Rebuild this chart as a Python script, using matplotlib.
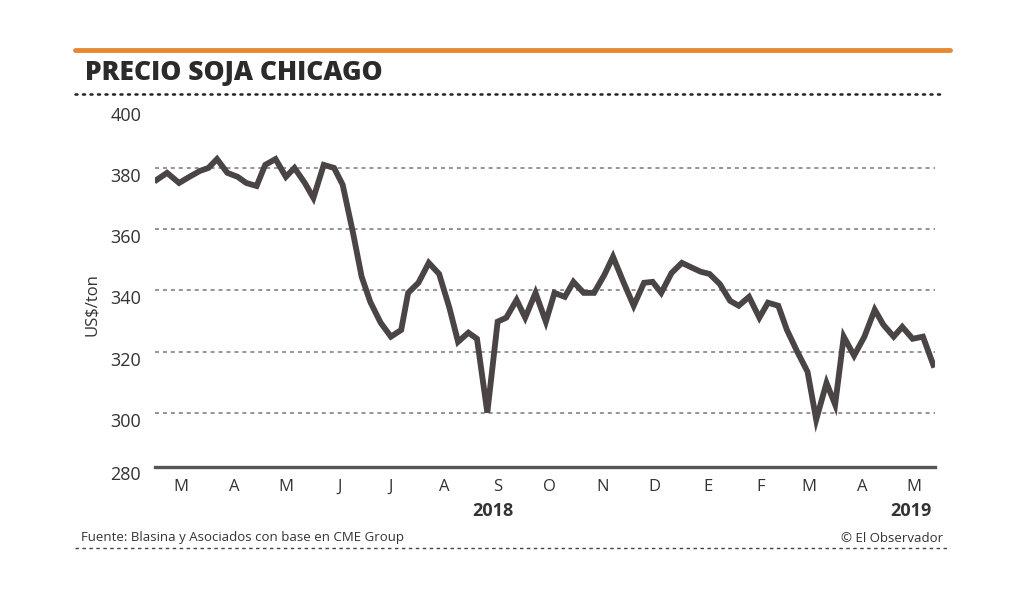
import matplotlib
matplotlib.use("Agg")
import matplotlib.pyplot as plt
import matplotlib.transforms as mtransforms
from matplotlib.lines import Line2D
import pandas as pd

plt.rcParams['font.family'] = ['Open Sans', 'DejaVu Sans']

# precio soja Chicago, US$/ton
fechas = [
    "2018-03-01", "2018-03-07", "2018-03-14", "2018-03-20", "2018-03-26", "2018-03-31",
    "2018-04-05", "2018-04-11", "2018-04-17", "2018-04-22", "2018-04-28",
    "2018-05-03", "2018-05-09", "2018-05-15", "2018-05-20", "2018-05-26", "2018-05-31",
    "2018-06-06", "2018-06-12", "2018-06-17", "2018-06-23", "2018-06-28",
    "2018-07-03", "2018-07-09", "2018-07-15", "2018-07-21", "2018-07-25", "2018-07-31",
    "2018-08-06", "2018-08-12", "2018-08-18", "2018-08-23", "2018-08-29",
    "2018-09-03", "2018-09-09", "2018-09-15", "2018-09-20", "2018-09-26",
    "2018-10-01", "2018-10-07", "2018-10-13", "2018-10-18", "2018-10-24", "2018-10-29",
    "2018-11-04", "2018-11-10", "2018-11-16", "2018-11-21", "2018-11-27",
    "2018-12-03", "2018-12-09", "2018-12-14", "2018-12-19", "2018-12-25", "2018-12-31",
    "2019-01-06", "2019-01-11", "2019-01-16", "2019-01-22", "2019-01-28",
    "2019-02-02", "2019-02-08", "2019-02-14", "2019-02-19", "2019-02-25",
    "2019-03-02", "2019-03-08", "2019-03-14", "2019-03-19", "2019-03-25", "2019-03-30",
    "2019-04-04", "2019-04-10", "2019-04-16", "2019-04-22", "2019-04-27",
    "2019-05-03", "2019-05-08", "2019-05-14", "2019-05-20", "2019-05-26",
]
precios = [
    376.1, 378.4, 375.1, 377.1, 379.0, 380.0,
    382.9, 378.4, 377.1, 375.1, 374.1,
    381.0, 382.9, 377.1, 380.0, 375.1, 370.2,
    381.0, 380.0, 374.5, 358.8, 344.5,
    336.3, 329.5, 324.9, 327.1, 339.2, 342.5,
    349.0, 345.4, 334.3, 323.2, 326.2,
    324.2, 300.1, 329.8, 331.1, 336.9,
    331.1, 339.2, 329.8, 339.2, 337.9, 342.8,
    339.2, 339.2, 345.1, 351.0, 342.8,
    335.0, 342.5, 342.8, 339.2, 345.7, 349.0,
    347.4, 346.1, 345.4, 342.1, 336.6,
    335.0, 337.9, 331.1, 336.0, 335.0,
    327.1, 320.0, 313.4, 297.8, 309.8, 302.7,
    324.9, 318.7, 324.9, 333.7, 328.8,
    324.9, 328.1, 324.2, 324.9, 315.7,
]

meses = ["M", "A", "M", "J", "J", "A", "S", "O", "N", "D", "E", "F", "M", "A", "M"]
meses_fecha = pd.date_range("2018-03-01", periods=len(meses), freq="MS") + pd.Timedelta(days=14)
anios = [("2018", "2018-09-12"), ("2019", "2019-05-13")]
y_ticks = [280, 300, 320, 340, 360, 380, 400]

fechas = pd.to_datetime(fechas)
linea = "#4a4445"
texto = "#333333"

fig = plt.figure(figsize=(10.24, 5.97), dpi=100)
ax = fig.add_axes([155 / 1024, 1 - 466.5 / 597, 780 / 1024, 359.8 / 597])

y_min = 282.5

for v in y_ticks[1:-1]:
    ax.axhline(v, color="#8c8c8c", lw=1.3, ls=(0, (2.2, 2.2)), zorder=1)

ax.plot(fechas, precios, color=linea, lw=4.2, solid_joinstyle="miter", zorder=3)

for s in ["top", "right", "left"]:
    ax.spines[s].set_visible(False)
ax.spines["bottom"].set_color("#555555")
ax.spines["bottom"].set_linewidth(2.4)

pos = [y_min] + y_ticks[1:]
ax.set_yticks(pos)
ax.set_yticklabels([str(v) for v in y_ticks], fontsize=13, color=texto)
ax.tick_params(axis="y", length=0, pad=10)
off = mtransforms.ScaledTranslation(0, -7 / 100, fig.dpi_scale_trans)
for lab in ax.get_yticklabels():
    lab.set_transform(lab.get_transform() + off)

ax.set_xticks(meses_fecha)
ax.set_xticklabels(meses, fontsize=12, color=texto)
ax.tick_params(axis="x", length=0, pad=9)

ax.set_ylim(y_min, 400)
ax.set_xlim(pd.Timestamp("2018-02-28"), pd.Timestamp("2019-05-27"))

ax.set_ylabel("US$/ton", fontsize=12, color=texto)
ax.yaxis.set_label_coords(-0.071, 0.45)

year_off = mtransforms.ScaledTranslation(0, -45 / 100, fig.dpi_scale_trans)
for txt, f in anios:
    ax.text(pd.Timestamp(f), y_min, txt, transform=ax.transData + year_off,
            fontsize=13, fontweight="bold", color=texto, ha="center",
            va="center", clip_on=False)

# cabecera y pie
fig.add_artist(Line2D([75 / 1024, 950 / 1024], [1 - 50 / 597] * 2, color="#e58a32",
                      lw=3.5, solid_capstyle="round"))
fig.text(85 / 1024, 1 - 73 / 597, "PRECIO SOJA CHICAGO", fontsize=19,
         fontweight="heavy", color="#2b2b2b", ha="left", va="center")
fig.add_artist(Line2D([75 / 1024, 945 / 1024], [1 - 94 / 597] * 2, color="#222222",
                      lw=1.8, ls=(0, (0.8, 2.2)), dash_capstyle="round"))
fig.add_artist(Line2D([75 / 1024, 950 / 1024], [1 - 548 / 597] * 2, color="#444444",
                      lw=1.0, ls=(0, (2.5, 2.5))))
fig.text(81 / 1024, 1 - 537 / 597, "Fuente: Blasina y Asociados con base en CME Group",
         fontsize=9.5, color=texto, ha="left", va="center")
fig.text(943 / 1024, 1 - 539 / 597, "© El Observador", fontsize=9.5, color=texto,
         ha="right", va="center")

fig.savefig("out.png", dpi=100, facecolor="white")
